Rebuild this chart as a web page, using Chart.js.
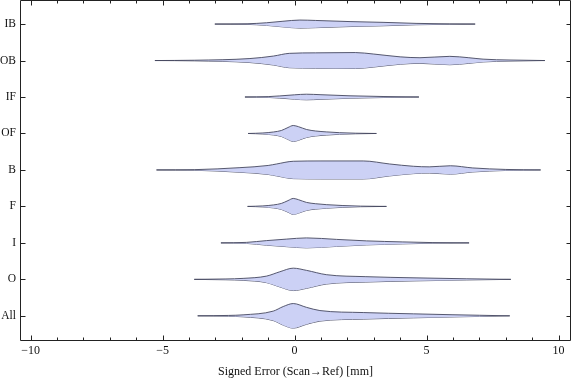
<!DOCTYPE html>
<html><head><meta charset="utf-8">
<script src="https://cdn.jsdelivr.net/npm/chart.js@4"></script>
<style>html,body{margin:0;padding:0;background:#fff}</style>
</head><body>
<canvas id="c" width="576" height="381"></canvas>
<script>
// Categories from bottom (1) to top (9)
const categories = ['All','O','I','F','B','OF','IF','OB','IB'];
const xTickValues = [-10, -5, 0, 5, 10];
const axisTitle = 'Signed Error (Scan\u2192Ref) [mm]';

// Violin profiles: x positions (mm) and half-widths (in category units)
const xAll = [-3.67,-2.5,-1.95,-0.81,-0.43,-0.05,0.45,0.96,2.6,4.5,6.0,7.0,8.15];
const wAll = [0,0.011,0.027,0.129,0.255,0.337,0.233,0.145,0.090,0.055,0.030,0.016,0];
const xO = [-3.8,-2.6,-1.95,-1.06,-0.56,-0.05,0.45,1.2,2.7,4.6,6.5,8.19];
const wO = [0,0.011,0.027,0.090,0.208,0.307,0.247,0.129,0.074,0.041,0.016,0];
const xI = [-2.79,-1.82,-1.06,-0.3,0.45,1.59,2.73,4.1,5.24,6.61];
const wI = [0,0.014,0.063,0.104,0.137,0.096,0.055,0.027,0.008,0];
const xF = [-1.78,-1.2,-0.8,-0.5,-0.25,-0.05,0.15,0.45,0.8,1.2,1.8,2.5,3.48];
const wF = [0,0.014,0.041,0.082,0.159,0.219,0.184,0.110,0.074,0.049,0.025,0.008,0];
const xB = [-5.23,-3.8,-2.07,-1.0,-0.68,-0.05,1.0,2.6,3.6,4.5,5.1,5.9,6.75,8.0,9.32];
const wB = [0,0.008,0.063,0.123,0.164,0.238,0.247,0.247,0.164,0.101,0.085,0.115,0.055,0.014,0];
const xOF = [-1.76,-1.2,-0.8,-0.5,-0.25,-0.05,0.15,0.45,0.8,1.2,1.7,2.3,3.1];
const wOF = [0,0.014,0.041,0.082,0.164,0.219,0.186,0.110,0.068,0.044,0.022,0.008,0];
const xIF = [-1.88,-1.0,-0.56,0.0,0.45,1.0,2.1,3.35,4.71];
const wIF = [0,0.011,0.030,0.060,0.077,0.063,0.033,0.014,0];
const xOB = [-5.29,-3.8,-1.69,-0.8,-0.2,0.8,2.3,3.0,4.0,4.75,5.88,6.6,7.14,8.16,9.48];
const wOB = [0,0.008,0.055,0.123,0.197,0.211,0.219,0.178,0.101,0.077,0.115,0.077,0.038,0.014,0];
const xIB = [-3.02,-1.8,-1.06,-0.44,0.2,0.8,2.1,3.35,4.6,5.88,6.84];
const wIB = [0,0.008,0.036,0.077,0.110,0.099,0.068,0.047,0.019,0.005,0];

const profiles = [[xAll,wAll],[xO,wO],[xI,wI],[xF,wF],[xB,wB],[xOF,wOF],[xIF,wIF],[xOB,wOB],[xIB,wIB]];

const fillColor = 'rgb(204,209,245)';
const edgeColor = 'rgba(70,72,95,0.9)';

const datasets = [];
profiles.forEach(([xs, ws], i) => {
  const c = i + 1;
  const common = {
    borderColor: edgeColor, borderWidth: 1, pointRadius: 0, pointHoverRadius: 0,
    cubicInterpolationMode: 'monotone'
  };
  datasets.push(Object.assign({
    label: categories[i] + ' upper',
    data: xs.map((x, k) => ({x: x, y: c + ws[k]})),
    fill: '+1', backgroundColor: fillColor
  }, common));
  datasets.push(Object.assign({
    label: categories[i] + ' lower',
    data: xs.map((x, k) => ({x: x, y: c - ws[k]})),
    fill: false
  }, common));
});

const frameTicks = {
  id: 'frameTicks',
  afterDraw(chart) {
    const {ctx, chartArea: a, scales: {x, y}} = chart;
    ctx.save();
    ctx.strokeStyle = '#222';
    ctx.lineWidth = 1;
    ctx.beginPath();
    const L = a.left + 0.5, R = a.right - 0.5, T = a.top + 0.5, B = a.bottom - 0.5;
    for (let v = Math.ceil(x.min); v <= Math.floor(x.max); v++) {
      const px = Math.round(x.getPixelForValue(v)) + 0.5;
      const len = (v % 5 === 0) ? 5 : 3;
      ctx.moveTo(px, B); ctx.lineTo(px, B - len);
      ctx.moveTo(px, T); ctx.lineTo(px, T + len);
    }
    categories.forEach((c, i) => {
      const py = Math.round(y.getPixelForValue(i + 1)) + 0.5;
      ctx.moveTo(L, py); ctx.lineTo(L + 5, py);
      ctx.moveTo(R, py); ctx.lineTo(R - 4, py);
    });
    ctx.moveTo(L, T); ctx.lineTo(R, T); ctx.lineTo(R, B); ctx.lineTo(L, B); ctx.closePath();
    ctx.stroke();
    ctx.restore();
  }
};

new Chart(document.getElementById('c'), {
  type: 'line',
  data: {datasets},
  options: {
    responsive: false,
    animation: false,
    layout: {padding: {left: 0, right: 5, top: 0, bottom: 0}},
    plugins: {legend: {display: false}, tooltip: {enabled: false}},
    events: [],
    scales: {
      x: {
        type: 'linear', min: -10.4, max: 10.47,
        grid: {display: false, drawTicks: false},
        border: {display: false},
        afterBuildTicks: s => { s.ticks = xTickValues.map(v => ({value: v})); },
        afterFit: s => { s.height = 40; s.paddingLeft = 0; s.paddingRight = 0; },
        ticks: {
          padding: 3, color: '#111', maxRotation: 0, autoSkip: false,
          font: {family: '"Liberation Serif", "DejaVu Serif", serif', size: 12},
          callback: v => (v < 0 ? '\u2212' + Math.abs(v) : String(v))
        },
        title: {
          display: true, text: axisTitle, color: '#111',
          padding: {top: 0, bottom: 2},
          font: {family: '"Liberation Serif", "DejaVu Serif", serif', size: 12}
        }
      },
      y: {
        type: 'linear', min: 0.31, max: 9.66,
        grid: {display: false, drawTicks: false},
        border: {display: false},
        afterBuildTicks: s => { s.ticks = categories.map((c, i) => ({value: i + 1})); },
        afterFit: s => { s.width = 20; s.paddingTop = 0; s.paddingBottom = 0; },
        ticks: {
          padding: 4, color: '#111', autoSkip: false,
          font: {family: '"Liberation Serif", "DejaVu Serif", serif', size: 11.5},
          callback: v => categories[Math.round(v) - 1] || ''
        }
      }
    }
  },
  plugins: [frameTicks]
});
</script>
</body></html>
